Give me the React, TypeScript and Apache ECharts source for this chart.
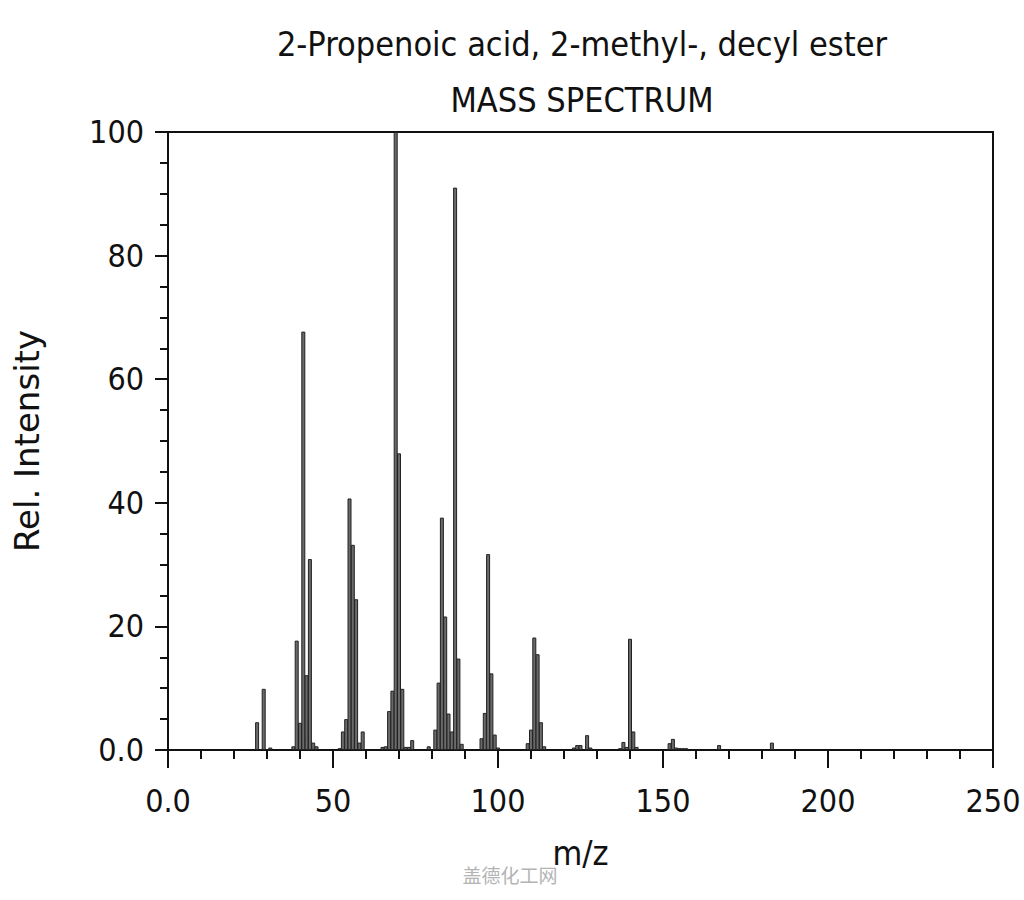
import React, { useEffect, useRef } from "react";
import * as echarts from "echarts";

const titleLines = ["2-Propenoic acid, 2-methyl-, decyl ester", "MASS SPECTRUM"];
const xTickLabels: Record<number, string> = { 0: "0.0", 50: "50", 100: "100", 150: "150", 200: "200", 250: "250" };
const yTickLabels: Record<number, string> = { 0: "0.0", 20: "20", 40: "40", 60: "60", 80: "80", 100: "100" };

const mz = [
  27, 29, 31, 38, 39, 40, 41, 42, 43, 44, 45,
  52, 53, 54, 55, 56, 57, 58, 59,
  65, 66, 67, 68, 69, 70, 71, 72, 73, 74,
  79, 81, 82, 83, 84, 85, 86, 87, 88, 89,
  95, 96, 97, 98, 99, 100,
  109, 110, 111, 112, 113, 114,
  123, 124, 125, 127, 128,
  137, 138, 139, 140, 141, 142,
  152, 153, 154, 155, 156, 157, 167, 183,
];
const intensity = [
  4.5, 9.9, 0.4, 0.6, 17.7, 4.4, 67.7, 12.1, 30.9, 1.2, 0.6,
  0.3, 3.0, 5.0, 40.7, 33.2, 24.4, 1.2, 3.0,
  0.5, 0.6, 6.3, 9.6, 100, 48.0, 9.9, 0.5, 0.5, 1.6,
  0.6, 3.3, 10.9, 37.6, 21.6, 5.9, 3.0, 91.0, 14.8, 1.0,
  1.9, 6.0, 31.7, 12.4, 2.5, 0.4,
  1.1, 3.3, 18.2, 15.5, 4.5, 0.6,
  0.4, 0.8, 0.8, 2.4, 0.4,
  0.3, 1.3, 0.5, 18.0, 3.0, 0.5,
  1.1, 1.8, 0.4, 0.3, 0.3, 0.3, 0.8, 1.2,
];

const FONT = "'DejaVu Sans Condensed', 'DejaVu Sans', sans-serif";

export default function App() {
  const ref = useRef<HTMLDivElement>(null);
  useEffect(() => {
    document.body.style.margin = "0";
    if (!ref.current) return;
    const chart = echarts.init(ref.current, null, { renderer: "svg" });
    chart.setOption({
      animation: false,
      backgroundColor: "#ffffff",
      grid: {
        left: 168,
        right: 31,
        top: 132,
        bottom: 150,
        outerBoundsMode: "none",
        containLabel: false,
        show: true,
        borderColor: "#111",
        borderWidth: 2,
        backgroundColor: "transparent",
      },
      graphic: [
        {
          type: "text",
          x: 582,
          y: 44,
          style: {
            text: titleLines[0],
            fontFamily: FONT,
            fontSize: 34,
            fill: "#111",
            textAlign: "center",
            textVerticalAlign: "middle",
          },
        },
        {
          type: "text",
          x: 582,
          y: 100,
          style: {
            text: titleLines[1],
            fontFamily: FONT,
            fontSize: 34,
            fill: "#111",
            textAlign: "center",
            textVerticalAlign: "middle",
          },
        },
        {
          type: "text",
          x: 510,
          y: 874,
          style: {
            text: "盖德化工网",
            fontFamily: "'Noto Sans CJK SC', sans-serif",
            fontSize: 19,
            fill: "#b4b4b4",
            textAlign: "center",
            textVerticalAlign: "middle",
          },
        },
      ],
      xAxis: {
        type: "value",
        min: 0,
        max: 250,
        interval: 50,
        name: "m/z",
        nameLocation: "middle",
        nameGap: 86,
        nameTextStyle: { fontFamily: FONT, fontSize: 34, color: "#111" },
        axisLine: { show: true, lineStyle: { color: "#111", width: 2 } },
        axisTick: { show: true, length: 18, lineStyle: { color: "#111", width: 2 } },
        minorTick: { show: true, splitNumber: 5, length: 9, lineStyle: { color: "#111", width: 2 } },
        splitLine: { show: false },
        axisLabel: {
          margin: 35,
          fontFamily: FONT,
          fontSize: 32,
          color: "#111",
          formatter: (v: number) => xTickLabels[v] ?? String(v),
        },
      },
      yAxis: {
        type: "value",
        min: 0,
        max: 100,
        interval: 20,
        name: "Rel. Intensity",
        nameLocation: "middle",
        nameGap: 124,
        nameTextStyle: { fontFamily: "'DejaVu Sans', sans-serif", fontSize: 34, color: "#111" },
        axisLine: { show: true, lineStyle: { color: "#111", width: 2 } },
        axisTick: { show: true, length: 13, lineStyle: { color: "#111", width: 2 } },
        minorTick: { show: true, splitNumber: 4, length: 8, lineStyle: { color: "#111", width: 2 } },
        splitLine: { show: false },
        axisLabel: {
          margin: 24,
          fontFamily: FONT,
          fontSize: 32,
          color: "#111",
          formatter: (v: number) => yTickLabels[v] ?? String(v),
        },
      },
      series: [
        {
          type: "bar",
          barWidth: 4,
          itemStyle: { color: "#6a6a6a", borderColor: "#222", borderWidth: 1 },
          data: mz.map((m, i) => [m, intensity[i]]),
        },
      ],
    });
    return () => chart.dispose();
  }, []);
  return <div ref={ref} style={{ width: 1024, height: 900 }} />;
}
